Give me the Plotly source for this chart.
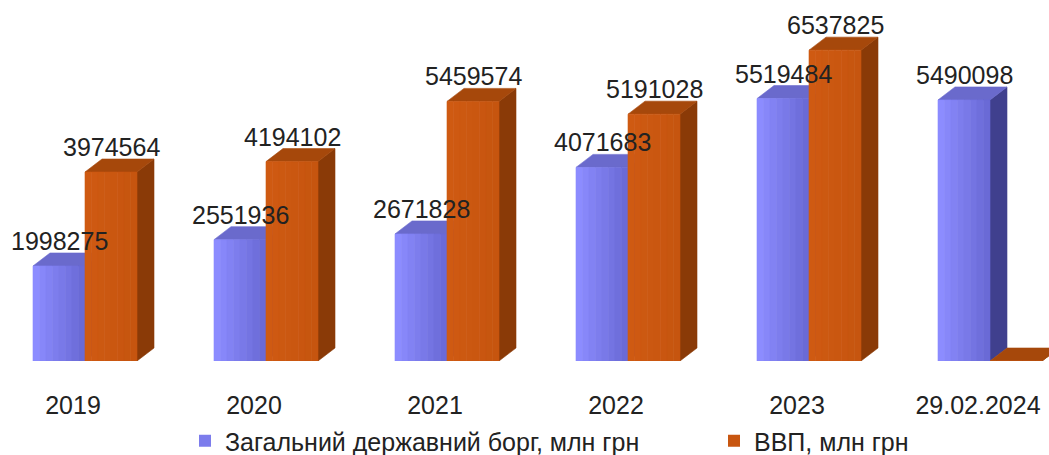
import plotly.graph_objects as go

categories = ["2019", "2020", "2021", "2022", "2023", "29.02.2024"]
debt = [1998275, 2551936, 2671828, 4071683, 5519484, 5490098]
gdp = [3974564, 4194102, 5459574, 5191028, 6537825, 0]
series_names = ["Загальний державний борг, млн грн", "ВВП, млн грн"]

# ---- layout / style constants ----
W_PX, H_PX = 1049, 455
PLOT_H = 361            # px height of plot area (base line at y=361)
STEP_PX = 181           # px per category
X0_PX = 85              # px position of first group centre
YMAX = 7.592e6
BAR_W = 52 / STEP_PX    # front face width in category units
DX = 17 / STEP_PX       # depth in x
DY = 13 * YMAX / PLOT_H # depth in y
FONT = "Liberation Sans, Arial, sans-serif"
FS = 25
N_STRIPS = 8

styles = [
    dict(front_l=(0x8c, 0x8c, 0xff), front_r=(0x6a, 0x6a, 0xd6),
         side="#40408e", top="#6a6acc", legend="#7c7cec"),
    dict(front_l=(0xcf, 0x5a, 0x12), front_r=(0xc6, 0x55, 0x0f),
         side="#8a3a07", top="#a6480b", legend="#c85610"),
]

fig = go.Figure()


def add_poly(xs, ys, color):
    fig.add_trace(go.Scatter(x=xs, y=ys, mode="lines", fill="toself",
                             fillcolor=color, line=dict(width=0.6, color=color),
                             hoverinfo="skip", showlegend=False))


def mix(a, b, t):
    return "rgb(%d,%d,%d)" % tuple(round(a[k] + (b[k] - a[k]) * t) for k in range(3))


for s, values in enumerate([debt, gdp]):
    st = styles[s]
    sx, sy, tx, ty = [], [], [], []
    strips = [([], []) for _ in range(N_STRIPS)]
    for i, v in enumerate(values):
        x0 = i - BAR_W if s == 0 else i
        x1 = x0 + BAR_W
        h = v
        sx += [x1, x1 + DX, x1 + DX, x1, x1, None]
        sy += [0, DY, h + DY, h, 0, None]
        tx += [x0, x1, x1 + DX, x0 + DX, x0, None]
        ty += [h, h, h + DY, h + DY, h, None]
        for k in range(N_STRIPS):
            a = x0 + BAR_W * k / N_STRIPS
            b = x0 + BAR_W * (k + 1) / N_STRIPS
            strips[k][0].extend([a, b, b, a, a, None])
            strips[k][1].extend([0, 0, h, h, 0, None])
    add_poly(sx, sy, st["side"])
    add_poly(tx, ty, st["top"])
    for k in range(N_STRIPS):
        add_poly(strips[k][0], strips[k][1],
                 mix(st["front_l"], st["front_r"], k / (N_STRIPS - 1)))

# legend entries (one legend box per series, to reproduce the wide spacing)
legend_ids = ["legend", "legend2"]
for s in range(2):
    fig.add_trace(go.Bar(x=[None], y=[None], name=series_names[s],
                         marker=dict(color=styles[s]["legend"], line=dict(width=0)),
                         showlegend=True, hoverinfo="skip", legend=legend_ids[s]))

# data labels
for s, values in enumerate([debt, gdp]):
    for i, v in enumerate(values):
        if not v:
            continue
        xc = i - BAR_W / 2 if s == 0 else i + BAR_W / 2
        fig.add_annotation(x=xc, y=v, text=str(v), showarrow=False,
                           yanchor="middle", yshift=25,
                           font=dict(family=FONT, size=FS, color="#222222"))

x_lo = -X0_PX / STEP_PX
x_hi = (W_PX - X0_PX) / STEP_PX

legend_common = dict(orientation="h", xanchor="left",
                     y=(PLOT_H - 441) / PLOT_H, yanchor="middle",
                     font=dict(size=FS, family=FONT), bgcolor="rgba(0,0,0,0)")

fig.update_layout(
    width=W_PX, height=H_PX,
    margin=dict(l=0, r=0, t=H_PX - PLOT_H - 94, b=94, autoexpand=False),
    paper_bgcolor="white", plot_bgcolor="white",
    barmode="overlay",
    font=dict(family=FONT, size=FS, color="#222222"),
    xaxis=dict(range=[x_lo, x_hi], showgrid=False, zeroline=False, showline=False,
               automargin=False, fixedrange=True,
               tickmode="array",
               tickvals=[i - 12 / STEP_PX for i in range(len(categories))],
               ticktext=categories, ticks="outside", ticklen=22,
               tickcolor="rgba(0,0,0,0)", tickfont=dict(size=FS, family=FONT)),
    yaxis=dict(range=[0, YMAX], visible=False, automargin=False, fixedrange=True),
    legend=dict(x=185 / W_PX, **legend_common),
    legend2=dict(x=714 / W_PX, **legend_common),
    showlegend=True,
)

fig.write_html("out.html", config={"displayModeBar": False},
               post_script="document.body.style.margin='0px';")
